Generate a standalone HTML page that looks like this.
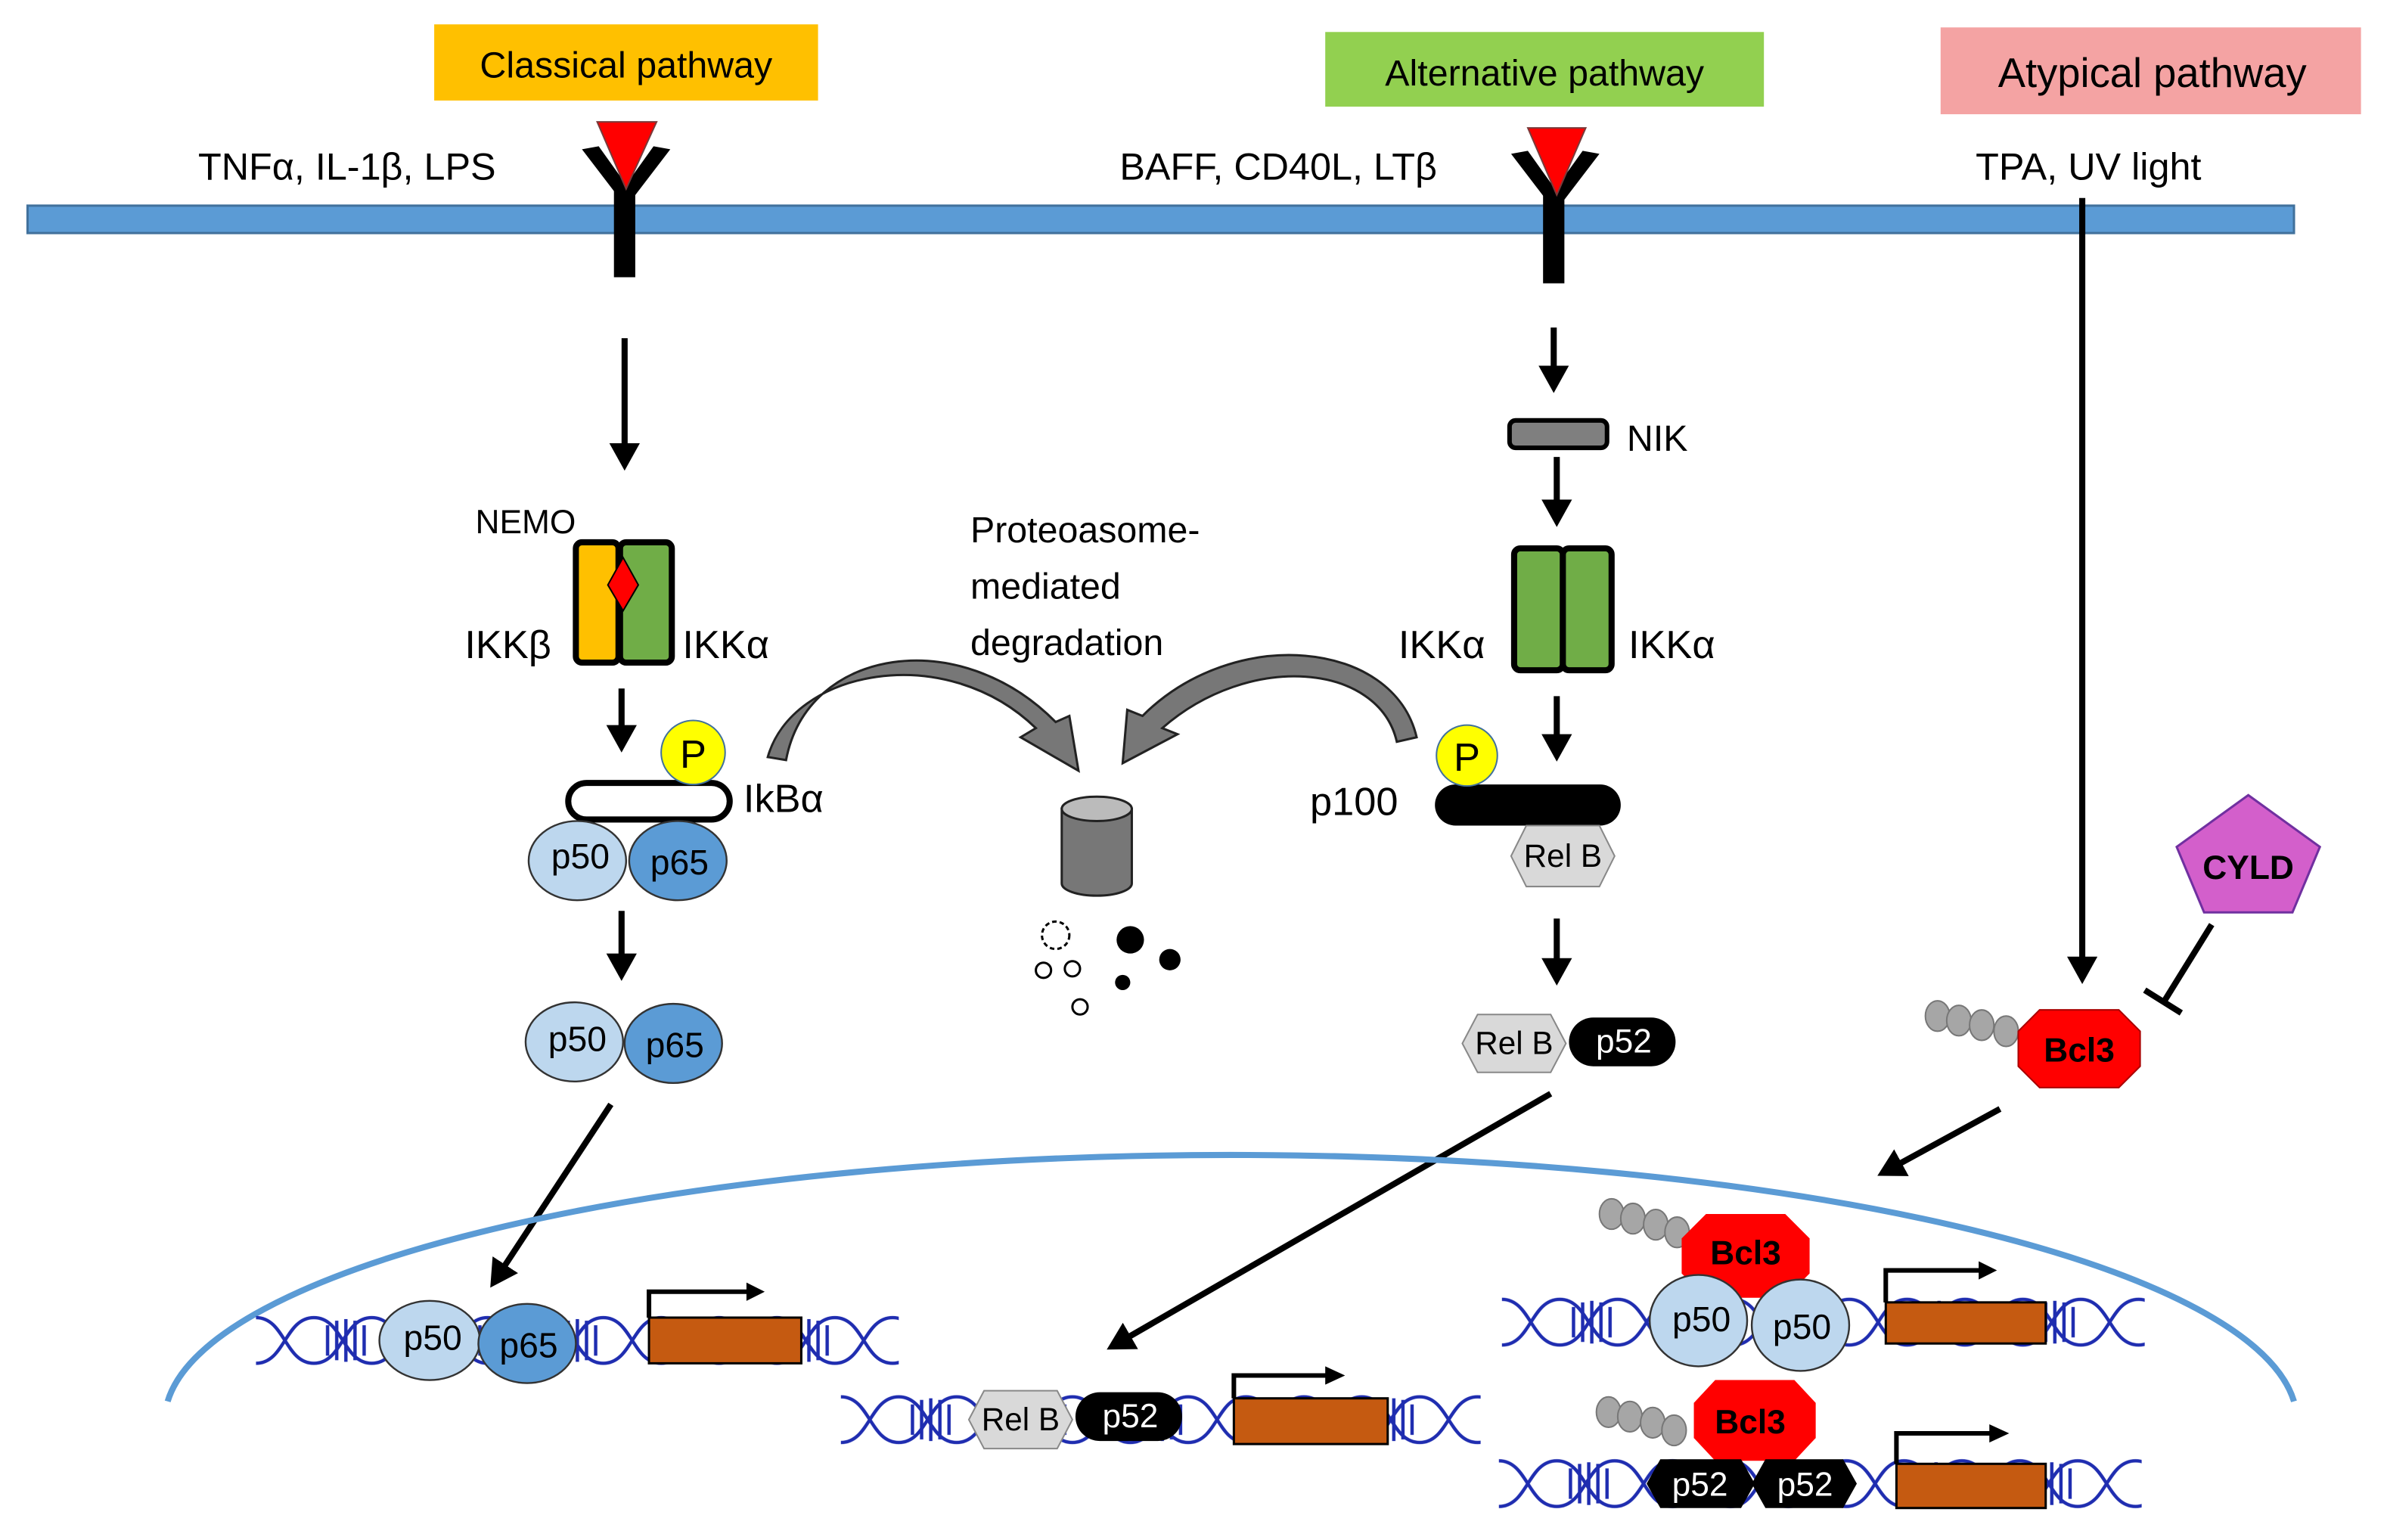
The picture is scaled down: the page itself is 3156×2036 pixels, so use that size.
<!DOCTYPE html>
<html><head><meta charset="utf-8"><style>
html,body{margin:0;padding:0;background:#fff;}
svg{display:block;}
text{font-family:"Liberation Sans",sans-serif;}
</style></head><body>
<svg width="3156" height="2036" viewBox="0 0 1567 1011" xmlns="http://www.w3.org/2000/svg">
<defs>
<marker id="ah" markerWidth="5" markerHeight="5" refX="3.5" refY="2.5" orient="auto" markerUnits="strokeWidth">
<path d="M0,0 L4.5,2.5 L0,5 z" fill="#000"/></marker>
<g id="tile">
<g stroke="#1F2DB0" stroke-width="2.2" fill="none">
<path d="M0,3 C19,3 19,33 38,33 C57,33 57,3 76,3"/>
<path d="M0,33 C19,33 19,3 38,3 C57,3 57,33 76,33"/>
<path d="M47,8 V28 M53,5 V31 M59,4 V32 M65,5 V31 M71,8 V28"/>
</g></g>
<pattern id="dna1" width="76" height="36" patternUnits="userSpaceOnUse" x="168" y="862"><use href="#tile"/></pattern>
<pattern id="dna2" width="76" height="36" patternUnits="userSpaceOnUse" x="552" y="914"><use href="#tile"/></pattern>
<pattern id="dna3" width="76" height="36" patternUnits="userSpaceOnUse" x="986" y="850"><use href="#tile"/></pattern>
<pattern id="dna4" width="76" height="36" patternUnits="userSpaceOnUse" x="984" y="956"><use href="#tile"/></pattern>
</defs>
<rect width="1567" height="1011" fill="#fff"/>

<rect x="285" y="16" width="252" height="50" fill="#FFC000"/>
<text x="411" y="51" font-size="24" text-anchor="middle">Classical pathway</text>
<rect x="870" y="21" width="288" height="49" fill="#92D050"/>
<text x="1014" y="56" font-size="24" text-anchor="middle">Alternative pathway</text>
<rect x="1274" y="18" width="276" height="57" fill="#F4A3A3"/>
<text x="1413" y="57" font-size="27" text-anchor="middle">Atypical pathway</text>

<text x="130" y="118" font-size="25">TNFα, IL-1β, LPS</text>
<text x="735" y="118" font-size="25">BAFF, CD40L, LTβ</text>
<text x="1297" y="118" font-size="25">TPA, UV light</text>

<rect x="18" y="135" width="1488" height="18" fill="#5B9BD5" stroke="#41719C" stroke-width="1.5"/>

<g fill="#000">
<rect x="403" y="120" width="14" height="62"/>
<path d="M382,98 L393,96 L413,124 L408,132 Z"/>
<path d="M440,98 L429,96 L409,124 L414,132 Z"/>
<rect x="1013" y="124" width="14" height="62"/>
<path d="M992,101 L1003,99 L1023,127 L1018,135 Z"/>
<path d="M1050,101 L1039,99 L1019,127 L1024,135 Z"/>
</g>
<path d="M392,80 L431,80 L411,124 Z" fill="#FF0000" stroke="#7a3a3a" stroke-width="1"/>
<path d="M1003,84 L1041,84 L1022,128 Z" fill="#FF0000" stroke="#7a3a3a" stroke-width="1"/>

<g stroke="#000" stroke-width="4" fill="none" marker-end="url(#ah)">
<line x1="410" y1="222" x2="410" y2="305"/>
<line x1="408" y1="452" x2="408" y2="490"/>
<line x1="408" y1="598" x2="408" y2="640"/>
<line x1="401" y1="725" x2="324" y2="842"/>
<line x1="1020" y1="215" x2="1020" y2="254"/>
<line x1="1022" y1="300" x2="1022" y2="342"/>
<line x1="1022" y1="457" x2="1022" y2="496"/>
<line x1="1022" y1="603" x2="1022" y2="643"/>
<line x1="1018" y1="718" x2="730" y2="884"/>
<line x1="1367" y1="130" x2="1367" y2="642"/>
<line x1="1313" y1="728" x2="1236" y2="770"/>
</g>

<text x="312" y="350" font-size="22">NEMO</text>
<rect x="378" y="356" width="28" height="79" rx="4" fill="#FFC000" stroke="#000" stroke-width="4"/>
<rect x="407" y="356" width="34" height="79" rx="4" fill="#70AD47" stroke="#000" stroke-width="4"/>
<path d="M409,366 L419,384 L409,401 L399,384 Z" fill="#FF0000" stroke="#000" stroke-width="1"/>
<text x="305" y="432" font-size="26">IKKβ</text>
<text x="448" y="432" font-size="26">IKKα</text>
<rect x="373" y="514" width="106" height="24" rx="12" fill="#fff" stroke="#000" stroke-width="4"/>
<circle cx="455" cy="494" r="21" fill="#FFFF00" stroke="#41719C" stroke-width="1"/>
<text x="455" y="504" font-size="26" text-anchor="middle">P</text>
<text x="488" y="533" font-size="26">IkBα</text>
<g stroke="#333" stroke-width="1.2">
<ellipse cx="379" cy="565" rx="32" ry="26" fill="#BDD7EE"/>
<ellipse cx="445" cy="565" rx="32" ry="26" fill="#5B9BD5"/>
<ellipse cx="377" cy="684" rx="32" ry="26" fill="#BDD7EE"/>
<ellipse cx="442" cy="685" rx="32" ry="26" fill="#5B9BD5"/>
</g>
<g font-size="23" text-anchor="middle">
<text x="381" y="570">p50</text><text x="446" y="574">p65</text>
<text x="379" y="690">p50</text><text x="443" y="694">p65</text>
</g>

<text x="637" y="356" font-size="24">Proteoasome-</text>
<text x="637" y="393" font-size="24">mediated</text>
<text x="637" y="430" font-size="24">degradation</text>
<g stroke="#222" stroke-width="1.5" fill="#777">
<path d="M504,497 C520,440 620,420 680,478 L670,484 L708,506 L702,470 L693,474 C630,410 530,425 516,499 Z"/>
<path d="M930,484 C915,420 810,410 750,470 L740,466 L737,501 L773,482 L763,478 C820,428 905,435 917,487 Z"/>
<path d="M697,531 V580 A23,8 0 0 0 743,580 V531 Z"/>
</g>
<ellipse cx="720" cy="531" rx="23" ry="8" fill="#bbb" stroke="#222" stroke-width="1.5"/>
<g fill="#000">
<circle cx="742" cy="617" r="9"/><circle cx="768" cy="630" r="7"/><circle cx="737" cy="645" r="5"/>
</g>
<g fill="none" stroke="#000" stroke-width="1.5">
<circle cx="693" cy="614" r="9" stroke-dasharray="3 2"/>
<circle cx="685" cy="637" r="5"/><circle cx="704" cy="636" r="5"/><circle cx="709" cy="661" r="5"/>
</g>

<rect x="991" y="276" width="64" height="18" rx="4" fill="#7F7F7F" stroke="#000" stroke-width="3"/>
<text x="1068" y="296" font-size="24">NIK</text>
<rect x="994" y="360" width="32" height="80" rx="4" fill="#70AD47" stroke="#000" stroke-width="4"/>
<rect x="1026" y="360" width="32" height="80" rx="4" fill="#70AD47" stroke="#000" stroke-width="4"/>
<text x="918" y="432" font-size="26">IKKα</text>
<text x="1069" y="432" font-size="26">IKKα</text>
<rect x="942" y="515" width="122" height="27" rx="13.5" fill="#000"/>
<circle cx="963" cy="496" r="20" fill="#FFFF00" stroke="#41719C" stroke-width="1"/>
<text x="963" y="506" font-size="26" text-anchor="middle">P</text>
<text x="860" y="535" font-size="26">p100</text>
<path d="M1002,542 L1050,542 L1060,562 L1050,582 L1002,582 L992,562 Z" fill="#D9D9D9" stroke="#888" stroke-width="1"/>
<text x="1026" y="569" font-size="21" text-anchor="middle">Rel B</text>
<path d="M970,666 L1018,666 L1028,685 L1018,704 L970,704 L960,685 Z" fill="#D9D9D9" stroke="#888" stroke-width="1"/>
<text x="994" y="692" font-size="21" text-anchor="middle">Rel B</text>
<rect x="1030" y="668" width="70" height="32" rx="16" fill="#000"/>
<text x="1066" y="691" font-size="22" fill="#fff" text-anchor="middle">p52</text>

<path d="M1476,522 L1523,556 L1505,599 L1447,599 L1429,556 Z" fill="#D35FCB" stroke="#7030A0" stroke-width="1.5"/>
<text x="1476" y="577" font-size="22" font-weight="bold" text-anchor="middle">CYLD</text>
<g stroke="#000" stroke-width="4"><line x1="1452" y1="607" x2="1421" y2="657"/><line x1="1408" y1="650" x2="1432" y2="665"/></g>
<g fill="#A6A6A6" stroke="#777" stroke-width="1">
<ellipse cx="1272" cy="667" rx="8" ry="10"/><ellipse cx="1286" cy="670" rx="8" ry="10"/><ellipse cx="1301" cy="673" rx="8" ry="10"/><ellipse cx="1317" cy="677" rx="8" ry="10"/>
</g>
<path d="M1339,663 L1391,663 L1405,677 L1405,700 L1391,714 L1339,714 L1325,700 L1325,677 Z" fill="#FF0000" stroke="#A00" stroke-width="1"/>
<text x="1365" y="697" font-size="22" font-weight="bold" text-anchor="middle">Bcl3</text>

<path d="M110,920 A700 175 0 0 1 1506,920" fill="none" stroke="#5B9BD5" stroke-width="4"/>

<rect x="168" y="862" width="422" height="36" fill="url(#dna1)"/>
<g stroke="#333" stroke-width="1.2">
<ellipse cx="282" cy="880" rx="33" ry="26" fill="#BDD7EE"/>
<ellipse cx="346" cy="882" rx="32" ry="26" fill="#5B9BD5"/>
</g>
<text x="284" y="886" font-size="23" text-anchor="middle">p50</text>
<text x="347" y="891" font-size="23" text-anchor="middle">p65</text>
<rect x="426" y="865" width="100" height="30" fill="#C55A11" stroke="#000" stroke-width="1.5"/>
<path d="M426,865 V848 H492" fill="none" stroke="#000" stroke-width="3"/>
<path d="M490,842 L502,848 L490,854 Z"/>

<rect x="552" y="914" width="420" height="36" fill="url(#dna2)"/>
<path d="M646,913 L694,913 L704,932 L694,951 L646,951 L636,932 Z" fill="#D9D9D9" stroke="#888" stroke-width="1"/>
<text x="670" y="939" font-size="21" text-anchor="middle">Rel B</text>
<rect x="706" y="914" width="70" height="32" rx="16" fill="#000"/>
<text x="742" y="937" font-size="22" fill="#fff" text-anchor="middle">p52</text>
<rect x="810" y="918" width="101" height="30" fill="#C55A11" stroke="#000" stroke-width="1.5"/>
<path d="M810,918 V903 H872" fill="none" stroke="#000" stroke-width="3"/>
<path d="M870,897 L883,903 L870,909 Z"/>

<rect x="986" y="850" width="422" height="36" fill="url(#dna3)"/>
<g fill="#A6A6A6" stroke="#777" stroke-width="1">
<ellipse cx="1058" cy="797" rx="8" ry="10"/><ellipse cx="1072" cy="800" rx="8" ry="10"/><ellipse cx="1087" cy="804" rx="8" ry="10"/><ellipse cx="1101" cy="809" rx="8" ry="10"/>
</g>
<path d="M1120,797 L1172,797 L1188,813 L1188,836 L1172,852 L1120,852 L1104,836 L1104,813 Z" fill="#FF0000"/>
<text x="1146" y="830" font-size="22" font-weight="bold" text-anchor="middle">Bcl3</text>
<g stroke="#333" stroke-width="1.2" fill="#BDD7EE">
<ellipse cx="1115" cy="867" rx="32" ry="30"/><ellipse cx="1182" cy="870" rx="32" ry="30"/>
</g>
<text x="1117" y="874" font-size="23" text-anchor="middle">p50</text>
<text x="1183" y="879" font-size="23" text-anchor="middle">p50</text>
<rect x="1238" y="855" width="105" height="27" fill="#C55A11" stroke="#000" stroke-width="1.5"/>
<path d="M1238,855 V834 H1300" fill="none" stroke="#000" stroke-width="3"/>
<path d="M1299,828 L1311,834 L1299,840 Z"/>

<rect x="984" y="956" width="422" height="36" fill="url(#dna4)"/>
<g fill="#A6A6A6" stroke="#777" stroke-width="1">
<ellipse cx="1056" cy="927" rx="8" ry="10"/><ellipse cx="1070" cy="930" rx="8" ry="10"/><ellipse cx="1085" cy="934" rx="8" ry="10"/><ellipse cx="1099" cy="939" rx="8" ry="10"/>
</g>
<path d="M1126,906 L1178,906 L1192,921 L1192,944 L1178,959 L1126,959 L1112,944 L1112,921 Z" fill="#FF0000"/>
<text x="1149" y="941" font-size="22" font-weight="bold" text-anchor="middle">Bcl3</text>
<path d="M1090,958 L1143,958 L1152,974 L1143,990 L1090,990 L1081,974 Z" fill="#000"/>
<path d="M1159,958 L1210,958 L1219,974 L1210,990 L1159,990 L1150,974 Z" fill="#000"/>
<text x="1116" y="982" font-size="22" fill="#fff" text-anchor="middle">p52</text>
<text x="1185" y="982" font-size="22" fill="#fff" text-anchor="middle">p52</text>
<rect x="1245" y="961" width="98" height="29" fill="#C55A11" stroke="#000" stroke-width="1.5"/>
<path d="M1245,961 V941 H1308" fill="none" stroke="#000" stroke-width="3"/>
<path d="M1306,935 L1319,941 L1306,947 Z"/>
</svg>
</body></html>
